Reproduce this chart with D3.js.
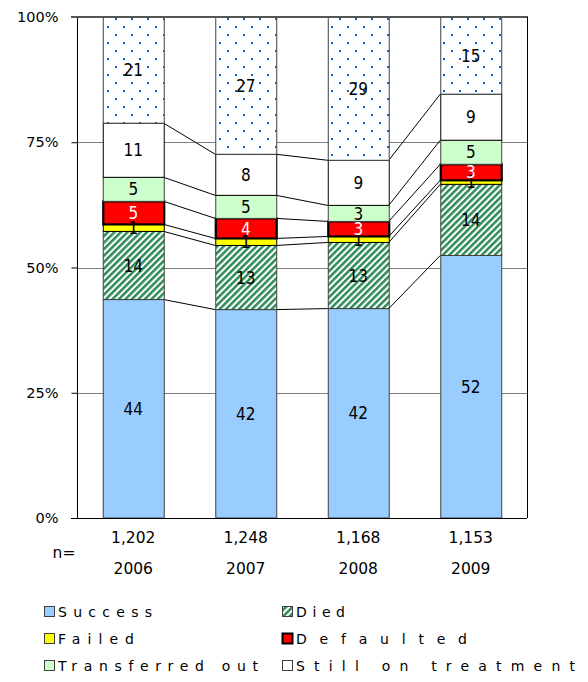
<!DOCTYPE html>
<html><head><meta charset="utf-8">
<script src="https://cdn.jsdelivr.net/npm/d3@7"></script>
<style>html,body{margin:0;padding:0;background:#fff;}svg{display:block;}</style>
</head><body>
<script>
// ---- data ----
const years = ["2006", "2007", "2008", "2009"];
const nValues = ["1,202", "1,248", "1,168", "1,153"];
const success = [43.6, 41.6, 41.8, 52.4];
const died = [13.6, 12.8, 13.2, 14.2];
const failed = [1.4, 1.4, 1.2, 0.8];
const defaulted = [4.6, 4.0, 3.0, 3.2];
const transferredOut = [4.8, 4.6, 3.2, 4.8];
const stillOnTreatment = [10.8, 8.2, 9.0, 9.2];
const notEvaluated = [21.2, 27.4, 28.6, 15.4];
const tickValues = [0, 25, 50, 75, 100];
const seriesNames = ["Success", "Died", "Failed", "Defaulted", "Transferred out", "Still on treatment", "Not evaluated"];
const legendNames = ["Success", "Died", "Failed", "Defaulted", "Transferred out", "Still on treatment"];

(function () {
const seriesValues = [success, died, failed, defaulted, transferredOut, stillOnTreatment, notEvaluated];
const table = years.map((yr, i) => {
  const o = {year: yr, n: nValues[i]};
  seriesNames.forEach((s, k) => o[s] = seriesValues[k][i]);
  return o;
});

// ---- styles ----
const style = {
  "Success": {fill: "#99ccff", stroke: "#404040", sw: 1, label: "#000"},
  "Died": {fill: "url(#diedPat)", stroke: "#404040", sw: 1, label: "#000"},
  "Failed": {fill: "#ffff00", stroke: "#000", sw: 1, label: "#000"},
  "Defaulted": {fill: "#ff0000", stroke: "#000", sw: 2.2, label: "#fff"},
  "Transferred out": {fill: "#ccffcc", stroke: "#404040", sw: 1, label: "#000"},
  "Still on treatment": {fill: "#ffffff", stroke: "#000", sw: 1, label: "#000"},
  "Not evaluated": {fill: "url(#dotPat)", stroke: "#404040", sw: 1, label: "#000"}
};

const W = 588, H = 682;
const svg = d3.select("body").append("svg").attr("width", W).attr("height", H);
const defs = svg.append("defs");
const dp = defs.append("pattern").attr("id", "diedPat").attr("patternUnits", "userSpaceOnUse")
  .attr("width", 4.6).attr("height", 4.6).attr("patternTransform", "rotate(45)");
dp.append("rect").attr("width", 4.6).attr("height", 4.6).attr("fill", "#fff");
dp.append("rect").attr("width", 2.5).attr("height", 4.6).attr("fill", "#2e8b57");
const dot = defs.append("pattern").attr("id", "dotPat").attr("patternUnits", "userSpaceOnUse")
  .attr("width", 16).attr("height", 16).attr("x", 3).attr("y", 2);
dot.append("rect").attr("width", 16).attr("height", 16).attr("fill", "#fff");
dot.append("rect").attr("x", 0).attr("y", 0).attr("width", 2).attr("height", 2).attr("fill", "#0a62d8");
dot.append("rect").attr("x", 8).attr("y", 8).attr("width", 2).attr("height", 2).attr("fill", "#0a62d8");

const pL = 77, pR = 527, pT = 17, pB = 518;
const x = d3.scaleBand().domain(years).range([pL, pR]).paddingInner(0.458).paddingOuter(0.229);
const y = d3.scaleLinear().domain([0, 100]).range([pB, pT]);

// gridlines
svg.append("g").selectAll("line").data(tickValues.filter(t => t > 0 && t < 100)).join("line")
  .attr("x1", pL).attr("x2", pR).attr("y1", d => Math.round(y(d)) + 0.5).attr("y2", d => Math.round(y(d)) + 0.5)
  .attr("stroke", "#7f7f7f").attr("stroke-width", 1);

const stacked = d3.stack().keys(seriesNames)(table);

// connector (series) lines
const conn = svg.append("g");
stacked.slice(0, seriesNames.length - 1).forEach(layer => {
  for (let i = 0; i < years.length - 1; i++) {
    conn.append("line")
      .attr("x1", x(years[i]) + x.bandwidth()).attr("y1", y(layer[i][1]))
      .attr("x2", x(years[i + 1])).attr("y2", y(layer[i + 1][1]))
      .attr("stroke", "#000").attr("stroke-width", 1);
  }
});

// bars
const gBars = svg.append("g");
stacked.forEach(layer => {
  const st = style[layer.key];
  gBars.append("g").selectAll("rect").data(layer).join("rect")
    .attr("x", d => x(d.data.year) + 0.5)
    .attr("y", d => y(d[1]))
    .attr("width", x.bandwidth())
    .attr("height", d => y(d[0]) - y(d[1]))
    .attr("fill", st.fill).attr("stroke", st.stroke).attr("stroke-width", st.sw);
});

// left axis
const axis = d3.axisLeft(y).tickValues(tickValues).tickFormat(d => d + "%").tickSize(6).tickPadding(13);
const ga = svg.append("g").attr("transform", `translate(${pL + 0.5},0)`).call(axis);
ga.select(".domain").attr("stroke", "#000").attr("d", `M0,${y(100)}V${y(0)}`);
ga.selectAll(".tick line").attr("stroke", "#000");
ga.selectAll(".tick text").attr("font-family", "DejaVu Sans, sans-serif").attr("font-size", 14.5).attr("fill", "#000");

// top line, baseline, right border
svg.append("line").attr("x1", pL - 6).attr("x2", pR + 1).attr("y1", y(100)).attr("y2", y(100))
  .attr("stroke", "#555").attr("stroke-width", 2);
svg.append("line").attr("x1", pL - 6).attr("x2", pR).attr("y1", y(0) + 0.5).attr("y2", y(0) + 0.5)
  .attr("stroke", "#000").attr("stroke-width", 1);
svg.append("line").attr("x1", pR + 0.5).attr("x2", pR + 0.5).attr("y1", y(100)).attr("y2", y(0))
  .attr("stroke", "#000").attr("stroke-width", 1);

// segment labels
const fmt = d3.format(".0f");
const gLab = svg.append("g").attr("font-family", "Liberation Sans Narrow, DejaVu Sans Condensed, sans-serif")
  .attr("font-size", 17).attr("text-anchor", "middle");
stacked.forEach(layer => {
  gLab.append("g").selectAll("text").data(layer).join("text")
    .attr("x", d => x(d.data.year) + x.bandwidth() / 2)
    .attr("y", d => (y(d[0]) + y(d[1])) / 2)
    .attr("dy", "0.36em")
    .attr("fill", style[layer.key].label)
    .text(d => fmt(d[1] - d[0]));
});

// category labels
const gCat = svg.append("g").attr("font-family", "DejaVu Sans, sans-serif").attr("font-size", 15.5)
  .attr("text-anchor", "middle").attr("fill", "#000");
gCat.selectAll(".n").data(table).join("text").attr("class", "n")
  .attr("x", d => x(d.year) + x.bandwidth() / 2).attr("y", 543).text(d => d.n);
gCat.selectAll(".yr").data(table).join("text").attr("class", "yr")
  .attr("x", d => x(d.year) + x.bandwidth() / 2).attr("y", 574).text(d => d.year);
gCat.append("text").attr("x", 64).attr("y", 558).text("n=");

// legend
const legendPos = [[44, 612], [282, 612], [44, 639], [282, 639], [44, 666], [282, 666]];
const legendWidths = [94, 49, 76, 171, 200, 279];
const gLeg = svg.append("g");
legendNames.forEach((name, i) => {
  const [lx, ly] = legendPos[i];
  const st = style[name];
  gLeg.append("rect").attr("x", lx + 0.5).attr("y", ly - 5.5).attr("width", 10).attr("height", 10)
    .attr("fill", st.fill).attr("stroke", name === "Defaulted" ? "#000" : "#404040")
    .attr("stroke-width", name === "Defaulted" ? 2 : 1);
  gLeg.append("text").attr("x", lx + 14).attr("y", ly).attr("dy", "0.36em")
    .attr("font-family", "DejaVu Sans, sans-serif").attr("font-size", 14)
    .attr("textLength", legendWidths[i]).attr("lengthAdjust", "spacing")
    .attr("fill", "#000").text(name);
});
})();
</script>
</body></html>
